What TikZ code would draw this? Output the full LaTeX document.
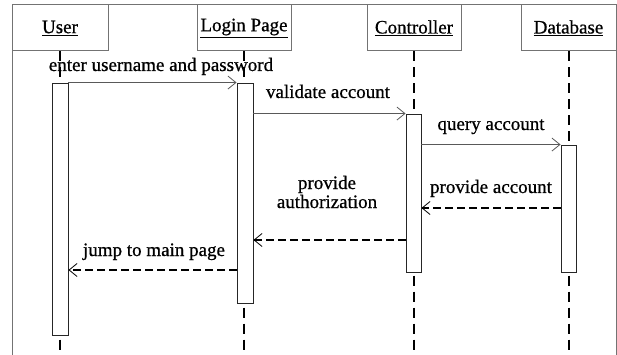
\documentclass[tikz,border=0pt]{standalone}
\usepackage{fontspec}
\setmainfont{Liberation Serif}[UprightFeatures={FakeBold=0.7}]
\usetikzlibrary{arrows.meta}
\begin{document}
\begin{tikzpicture}[x=1pt,y=-1pt,
  frame/.style={draw=black!55,line width=1pt},
  head/.style={draw=black!55,line width=1pt,fill=white,minimum height=46pt,inner sep=0pt,font=\fontsize{19}{21}\selectfont},
  life/.style={line width=2pt,dash pattern=on 10pt off 6pt},
  act/.style={draw=black!85,line width=0.9pt,fill=white,inner sep=0pt},
  msg/.style={draw=black!65,line width=0.9pt,-{Straight Barb[length=8pt,width=13pt,line width=0.8pt]}},
  ret/.style={line width=2.2pt,dash pattern=on 8pt off 4pt,-{Straight Barb[length=8pt,width=13pt,line width=0.8pt]}},
  lbl/.style={font=\fontsize{19}{19}\selectfont,inner sep=1pt,anchor=base,align=center}]
\useasboundingbox (0,0) rectangle (617,355);
\fill[white] (0,0) rectangle (617,355);
\draw[frame] (12,360) -- (12,5) -- (616,5) -- (616,360);
% heads
\node[head,minimum width=96pt] (hU) at (60,28) {\underline{User}};
\node[head,minimum width=94pt] (hL) at (244,28) {\underline{Login Page}};
\node[head,minimum width=94pt] (hC) at (414,28) {\underline{Controller}};
\node[head,minimum width=95pt] (hD) at (568.5,28) {\underline{Database}};
% lifelines
\coordinate (eU) at (60,360);
\coordinate (eL) at (244,360);
\coordinate (eC) at (414,360);
\coordinate (eD) at (568.5,360);
\draw[life] (hU.south) -- (eU);
\draw[life] (hL.south) -- (eL);
\draw[life] (hC.south) -- (eC);
\draw[life] (hD.south) -- (eD);
% activations
\node[act,minimum width=16pt,minimum height=252pt] (aU) at (60,209) {};
\node[act,minimum width=16pt,minimum height=220pt] (aL) at (245,193) {};
\node[act,minimum width=15pt,minimum height=158pt] (aC) at (413.5,193) {};
\node[act,minimum width=15pt,minimum height=127pt] (aD) at (568.5,208.5) {};
% messages
\draw[msg] (aU.north east) -- (aL.north west);
\node[lbl] (t1) at (161,71) {enter username and password};
\draw[msg] (aL.east |- aC.north) -- (aC.north west);
\node[lbl] (t2) at (328,98) {validate account};
\draw[msg] (aC.east |- aD.north) -- (aD.north west);
\node[lbl] (t3) at (491,130) {query account};
\draw[ret] (aD.west |- 0,208) -- (aC.east |- 0,208);
\node[lbl] (t4) at (491,193) {provide account};
\draw[ret] (aC.west |- 0,240) -- (aL.east |- 0,240);
\node[lbl] (t5) at (327,208) {provide\\authorization};
\draw[ret] (aL.west |- 0,270) -- (aU.east |- 0,270);
\node[lbl] (t6) at (154,256) {jump to main page};
\end{tikzpicture}
\end{document}
